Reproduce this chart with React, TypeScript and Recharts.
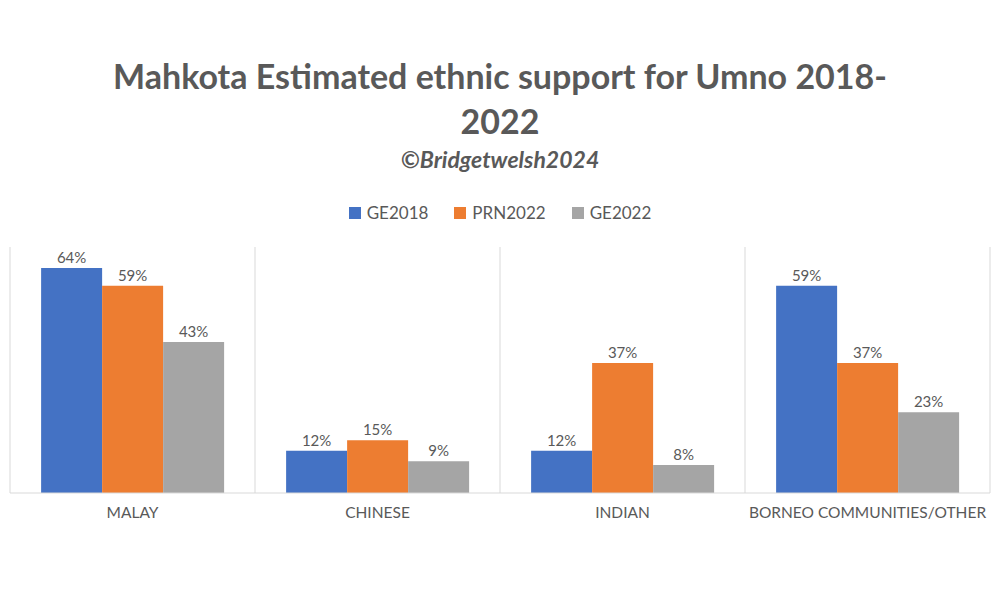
import React from 'react';
import { BarChart, Bar, XAxis, YAxis, CartesianGrid, LabelList } from 'recharts';

const categories = ['MALAY', 'CHINESE', 'INDIAN', 'BORNEO COMMUNITIES/OTHER'];
const ge2018 = [64, 12, 12, 59];
const prn2022 = [59, 15, 37, 37];
const ge2022 = [43, 9, 8, 23];

const series = [
  { key: 'GE2018', color: '#4472c4' },
  { key: 'PRN2022', color: '#ed7d31' },
  { key: 'GE2022', color: '#a5a5a5' },
];

const data = categories.map((name, i) => ({
  name,
  GE2018: ge2018[i],
  PRN2022: prn2022[i],
  GE2022: ge2022[i],
}));

const font = 'Lato, "Open Sans", sans-serif';
const pct = (v: any) => `${v}%`;

export default function App() {
  return (
    <div style={{ position: 'fixed', left: 0, top: 0, width: 1000, height: 600, background: '#fff', fontFamily: font }}>
      <div style={{ position: 'absolute', top: 53, width: 1000, textAlign: 'center', color: '#595959', fontWeight: 700, fontSize: 34, lineHeight: '45px' }}>
        Mahkota Estimated ethnic support for Umno 2018-<br />2022
      </div>
      <div style={{ position: 'absolute', top: 145, width: 1000, textAlign: 'center', color: '#595959', fontWeight: 700, fontStyle: 'italic', fontSize: 23 }}>
        ©Bridgetwelsh2024
      </div>
      <div style={{ position: 'absolute', top: 202, width: 1000, display: 'flex', justifyContent: 'center', gap: 26, color: '#595959', fontSize: 17 }}>
        {series.map((s) => (
          <div key={s.key} style={{ display: 'flex', alignItems: 'center', gap: 6 }}>
            <span style={{ width: 12, height: 12, background: s.color, display: 'inline-block' }} />
            {s.key}
          </div>
        ))}
      </div>
      <BarChart width={1000} height={600} data={data} margin={{ top: 247, right: 10, left: 10, bottom: 77 }} barCategoryGap="12.7%" barGap={0}>
        <CartesianGrid
          horizontal={false}
          stroke="#d9d9d9"
          verticalCoordinatesGenerator={({ offset }: any) => [0, 1, 2, 3, 4].map((k) => offset.left + (k * offset.width) / 4)}
        />
        <XAxis dataKey="name" stroke="#d9d9d9" tickLine={false} height={30} tick={{ fill: '#595959', fontSize: 15.5, fontFamily: font }} tickMargin={8} />
        <YAxis hide domain={[0, 70]} />
        {series.map((s) => (
          <Bar key={s.key} dataKey={s.key} fill={s.color} isAnimationActive={false}>
            <LabelList dataKey={s.key} position="top" formatter={pct} fill="#595959" fontSize={15} />
          </Bar>
        ))}
      </BarChart>
    </div>
  );
}
